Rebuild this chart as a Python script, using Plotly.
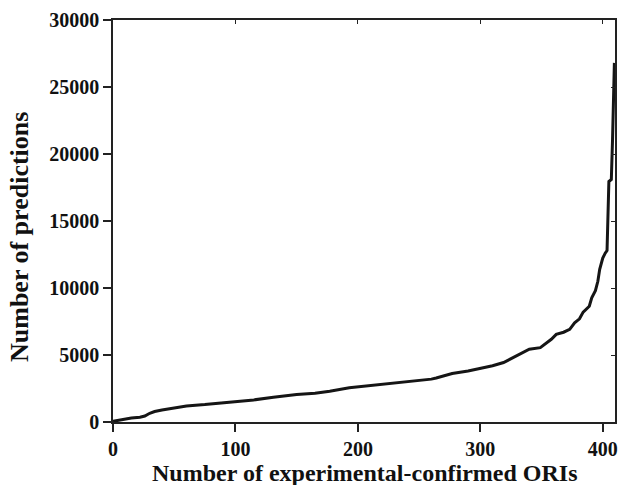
import plotly.graph_objects as go

ori_count = [0, 5, 10, 15, 22, 26, 30, 34, 40, 50, 60, 75, 90, 100, 115, 131, 150,
             165, 177, 193, 202, 221, 242, 260, 264, 277, 290, 300, 310, 319, 330,
             340, 349, 358, 362, 368, 373, 377, 381, 384, 389, 391, 394, 396, 397.5,
             400, 402, 403.5, 405, 407, 408, 409, 409.5]
predictions = [50, 150, 250, 300, 360, 450, 650, 780, 900, 1050, 1200, 1300, 1420,
               1550, 1650, 1840, 2050, 2150, 2290, 2550, 2630, 2830, 3000, 3200, 3280,
               3620, 3800, 4000, 4200, 4440, 4950, 5430, 5550, 6170, 6540, 6700, 6910,
               7400, 7700, 8200, 8640, 9260, 9800, 10500, 11400, 12230, 12600, 12800,
               17950, 18100, 21100, 24000, 26800]

x_ticks = [0, 100, 200, 300, 400]
y_ticks = [0, 5000, 10000, 15000, 20000, 25000, 30000]
x_title = "Number of experimental-confirmed ORIs"
y_title = "Number of predictions"

FONT = "Liberation Serif"
AX = "#222222"
L, R, T, B = 113, 7, 20, 63
W, H = 622, 485
PW, PH = W - L - R, H - T - B

fig = go.Figure()
fig.add_trace(go.Scatter(x=ori_count, y=predictions, mode="lines",
                         line=dict(color="#151515", width=3), showlegend=False))
fig.add_trace(go.Scatter(x=[None], y=[None], xaxis="x2", yaxis="y2",
                         showlegend=False, hoverinfo="skip"))

common = dict(showgrid=False, zeroline=False, automargin=False, showline=True,
              linecolor=AX, linewidth=1.5, tickcolor=AX)

fig.update_layout(
    width=W, height=H,
    margin=dict(l=L, r=R, t=T, b=B),
    paper_bgcolor="white", plot_bgcolor="white",
    font=dict(family=FONT, color="#111111", size=20),
    xaxis=dict(range=[0, 410], tickvals=x_ticks, ticktext=[str(v) for v in x_ticks],
               ticks="outside", ticklen=8, tickwidth=1.5,
               tickfont=dict(family=FONT, size=20, weight="bold"), **common),
    yaxis=dict(range=[0, 30000], tickvals=y_ticks, ticktext=[str(v) for v in y_ticks],
               ticks="outside", ticklen=8, tickwidth=1.5,
               tickfont=dict(family=FONT, size=20, weight="bold"), **common),
    xaxis2=dict(overlaying="x", side="top", range=[0, 410], tickvals=x_ticks,
                ticks="inside", ticklen=4, tickwidth=1, showticklabels=False, **common),
    yaxis2=dict(overlaying="y", side="right", range=[0, 30000], tickvals=y_ticks,
                ticks="inside", ticklen=4, tickwidth=1, showticklabels=False, **common),
)

fig.add_annotation(text=x_title, xref="paper", yref="paper",
                   x=0.5, y=(H - B - 458) / PH, xanchor="center", yanchor="top",
                   showarrow=False,
                   font=dict(family=FONT, size=24, weight="bold", color="#111111"))
fig.add_annotation(text=y_title, xref="paper", yref="paper", textangle=-90,
                   x=(19 - L) / PW, y=(H - B - 237) / PH, xanchor="center",
                   yanchor="middle", showarrow=False,
                   font=dict(family=FONT, size=26, weight="bold", color="#111111"))

fig.write_html("out.html", config={"displayModeBar": False},
               post_script="document.body.style.margin='0';document.body.style.overflow='hidden';")
